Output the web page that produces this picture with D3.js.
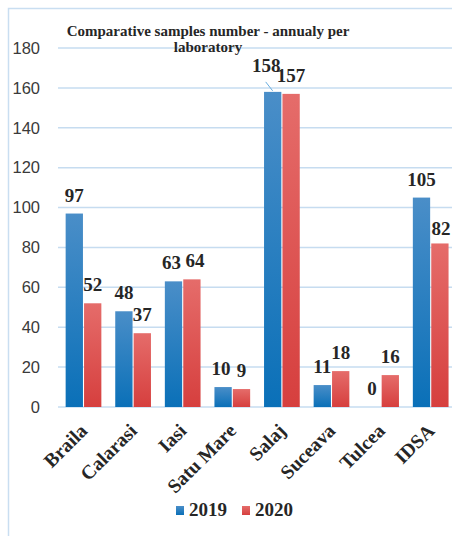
<!DOCTYPE html>
<html>
<head>
<meta charset="utf-8">
<script src="https://cdn.jsdelivr.net/npm/d3@7"></script>
<style>
  html, body { margin: 0; padding: 0; background: #fff; }
  svg { display: block; }
</style>
</head>
<body>
<svg id="chart" width="452" height="536"></svg>
<script>
// Laboratories and annual comparative sample counts
const labs = ["Braila", "Calarasi", "Iasi", "Satu Mare", "Salaj", "Suceava", "Tulcea", "IDSA"];
const years = ["2019", "2020"];
const samples2019 = [97, 48, 63, 10, 158, 11, 0, 105];
const samples2020 = [52, 37, 64, 9, 157, 18, 16, 82];
const yTicks = [0, 20, 40, 60, 80, 100, 120, 140, 160, 180];
const titleLines = ["Comparative samples number - annualy per", "laboratory"];

(function () {
const svg = d3.select("#chart");
const W = 452, H = 536;
const serif = "'Liberation Serif', 'Times New Roman', serif";
const sans = "'Liberation Sans', Arial, sans-serif";

// Plot area
const plotLeft = 58.7, plotRight = 455.5, plotTop = 48, plotBottom = 407;

const x = d3.scaleBand().domain(labs).range([plotLeft, plotRight]).paddingInner(0.28).paddingOuter(0.14);
const xs = d3.scaleBand().domain(years).range([0, x.bandwidth()]).paddingInner(0.06);
const y = d3.scaleLinear().domain([0, 180]).range([plotBottom, plotTop]);

// Gradients for the two series
const defs = svg.append("defs");
const grads = [
  { id: "g2019", hi: "#4a8ec8", lo: "#0a70b8" },
  { id: "g2020", hi: "#e56c6a", lo: "#d63f3e" }
];
grads.forEach(g => {
  const lg = defs.append("linearGradient").attr("id", g.id)
    .attr("x1", 0).attr("y1", 0).attr("x2", 0).attr("y2", 1);
  lg.append("stop").attr("offset", "0%").attr("stop-color", g.hi);
  lg.append("stop").attr("offset", "100%").attr("stop-color", g.lo);
});

// Frame
svg.append("path").attr("d", `M8.5,${H} L8.5,8.5 L${W},8.5`)
  .attr("fill", "none").attr("stroke", "#c9def1").attr("stroke-width", 1.5);

// Grid lines
svg.append("g").selectAll("line").data(yTicks).join("line")
  .attr("x1", 58).attr("x2", W)
  .attr("y1", d => y(d)).attr("y2", d => y(d))
  .attr("stroke", "#c6dcf0").attr("stroke-width", 1.5);

// Y axis labels
const yAxis = d3.axisLeft(y).tickValues(yTicks).tickSize(0).tickPadding(0);
const ya = svg.append("g").attr("transform", "translate(40,0)").call(yAxis);
ya.select(".domain").remove();
ya.selectAll("text").attr("font-family", sans).attr("font-size", 16.5).attr("fill", "#3a3a3a");

// Bars
const rows = labs.map((lab, i) => ({ lab, vals: [
  { year: "2019", v: samples2019[i] },
  { year: "2020", v: samples2020[i] }
]}));

const groups = svg.append("g").selectAll("g").data(rows).join("g")
  .attr("transform", d => `translate(${x(d.lab)},0)`);

groups.selectAll("rect").data(d => d.vals).join("rect")
  .attr("x", d => xs(d.year))
  .attr("width", xs.bandwidth())
  .attr("y", d => y(d.v))
  .attr("height", d => plotBottom - y(d.v))
  .attr("fill", d => `url(#g${d.year})`);

// Value labels; a few are nudged apart where neighbours would collide
const nudge = {
  "Salaj 2019": [-6.5, -8],
  "Iasi 2019": [-2, 0],
  "Iasi 2020": [3, 0],
  "Satu Mare 2019": [-2, 0],
  "IDSA 2020": [1, 4]
};
const nd = d => nudge[d.lab + " " + d.year] || [0, 0];
groups.selectAll("text").data(d => d.vals.map(v => Object.assign({ lab: d.lab }, v))).join("text")
  .attr("x", d => xs(d.year) + xs.bandwidth() / 2 + nd(d)[0])
  .attr("y", d => y(d.v) - 12 + nd(d)[1])
  .attr("text-anchor", "middle")
  .attr("font-family", serif).attr("font-weight", "bold").attr("font-size", 19)
  .attr("fill", "#262626")
  .text(d => d.v);

// Leader line for the displaced Salaj 2019 label
const sx = x("Salaj") + xs("2019") + xs.bandwidth() / 2;
svg.append("line")
  .attr("x1", sx - 7).attr("y1", y(158) - 10)
  .attr("x2", sx).attr("y2", y(158) - 1)
  .attr("stroke", "#6aaee0").attr("stroke-width", 1);

// Category labels
svg.append("g").selectAll("text").data(labs).join("text")
  .attr("transform", d => `translate(${x(d) + x.bandwidth() / 2 + 5},${plotBottom + 25}) rotate(-45)`)
  .attr("text-anchor", "end")
  .attr("font-family", serif).attr("font-weight", "bold").attr("font-size", 19.5)
  .attr("fill", "#262626")
  .text(d => d);

// Title
svg.append("g").selectAll("text").data(titleLines).join("text")
  .attr("x", 208).attr("y", (d, i) => 36 + i * 16)
  .attr("text-anchor", "middle")
  .attr("font-family", serif).attr("font-weight", "bold").attr("font-size", 15)
  .attr("fill", "#262626")
  .text(d => d);

// Legend
const legend = svg.append("g").selectAll("g").data(years).join("g")
  .attr("transform", (d, i) => `translate(${176 + i * 66},506)`);
legend.append("rect").attr("width", 8).attr("height", 9).attr("fill", d => `url(#g${d})`);
legend.append("text").attr("x", 13).attr("y", 10)
  .attr("font-family", serif).attr("font-weight", "bold").attr("font-size", 19)
  .attr("fill", "#262626").text(d => d);
})();
</script>
</body>
</html>
